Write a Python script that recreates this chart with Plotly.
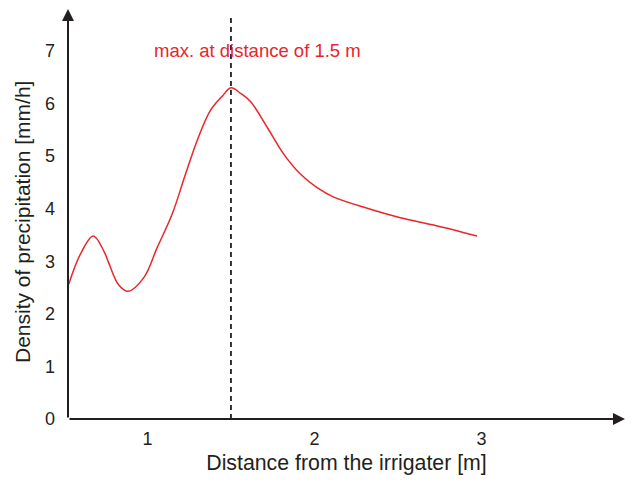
import plotly.graph_objects as go

# Precipitation density measured along the distance from the irrigator
distance_m = [0.529, 0.599, 0.675, 0.738, 0.768, 0.828, 0.884, 0.978, 1.058, 1.148,
              1.228, 1.298, 1.377, 1.45, 1.5, 1.56, 1.617, 1.717, 1.816, 1.916,
              2.016, 2.116, 2.316, 2.515, 2.714, 2.974]
density_mmh = [2.57, 3.14, 3.48, 3.20, 2.97, 2.55, 2.43, 2.69, 3.26, 3.90,
               4.66, 5.30, 5.87, 6.15, 6.30, 6.19, 6.04, 5.55, 5.04, 4.66,
               4.40, 4.22, 4.01, 3.83, 3.69, 3.48]

peak_distance = 1.5
x_ticks = [1, 2, 3]
y_ticks = [0, 1, 2, 3, 4, 5, 6, 7]

x_min, x_max = 0.524, 3.86
y_min, y_max = 0.0, 7.8

ink = "#231f20"
red = "#e8262b"
font_family = "Liberation Sans, Arial, Helvetica, sans-serif"

W, H = 634, 480
M_L, M_R, M_T, M_B = 68, 9, 9, 61
plot_w = W - M_L - M_R
plot_h = H - M_T - M_B

fig = go.Figure()

fig.add_trace(go.Scatter(
    x=distance_m, y=density_mmh, mode="lines",
    line=dict(color=red, width=1.5, shape="spline", smoothing=1.0),
    hoverinfo="skip", showlegend=False,
))

# dashed marker at the maximum
fig.add_trace(go.Scatter(
    x=[peak_distance, peak_distance], y=[0, 7.68], mode="lines",
    line=dict(color=ink, width=1.8, dash="5px,4px"),
    hoverinfo="skip", showlegend=False,
))

# axes drawn as arrows
fig.add_annotation(x=x_max, y=0, ax=x_min, ay=0, xref="x", yref="y", axref="x", ayref="y",
                   showarrow=True, arrowhead=2, arrowsize=1.2, arrowwidth=2,
                   arrowcolor=ink, text="", standoff=0, startstandoff=0)
fig.add_annotation(x=x_min, y=y_max, ax=x_min, ay=0, xref="x", yref="y", axref="x", ayref="y",
                   showarrow=True, arrowhead=2, arrowsize=1.2, arrowwidth=2,
                   arrowcolor=ink, text="", standoff=0, startstandoff=0)

fig.add_annotation(x=1.03, y=7.01, xref="x", yref="y", xanchor="left",
                   text="max. at distance of 1.5 m", showarrow=False,
                   font=dict(family=font_family, size=18.5, color=red))

# vertical axis title, placed in paper coordinates
fig.add_annotation(x=(22 - M_L) / plot_w, y=(H - M_B - 222) / plot_h,
                   xref="paper", yref="paper", xanchor="center", yanchor="middle",
                   text="Density of precipitation [mm/h]", showarrow=False, textangle=-90,
                   font=dict(family=font_family, size=21, color=ink))

fig.update_layout(
    width=W, height=H,
    margin=dict(l=M_L, r=M_R, t=M_T, b=M_B),
    paper_bgcolor="white", plot_bgcolor="white",
    font=dict(family=font_family, color=ink, size=18),
    xaxis=dict(
        range=[x_min, x_max], tickvals=x_ticks, ticktext=[str(v) for v in x_ticks],
        showgrid=False, zeroline=False, showline=False, ticks="",
        tickfont=dict(size=18, color=ink), ticklabelstandoff=7,
        title=dict(text="Distance from the irrigater [m]", font=dict(size=21.3, color=ink), standoff=7),
    ),
    yaxis=dict(
        range=[y_min, y_max], tickvals=y_ticks, ticktext=[str(v) for v in y_ticks],
        showgrid=False, zeroline=False, showline=False, ticks="",
        tickfont=dict(size=18, color=ink), ticklabelstandoff=12,
    ),
)

fig.write_html("out.html")
